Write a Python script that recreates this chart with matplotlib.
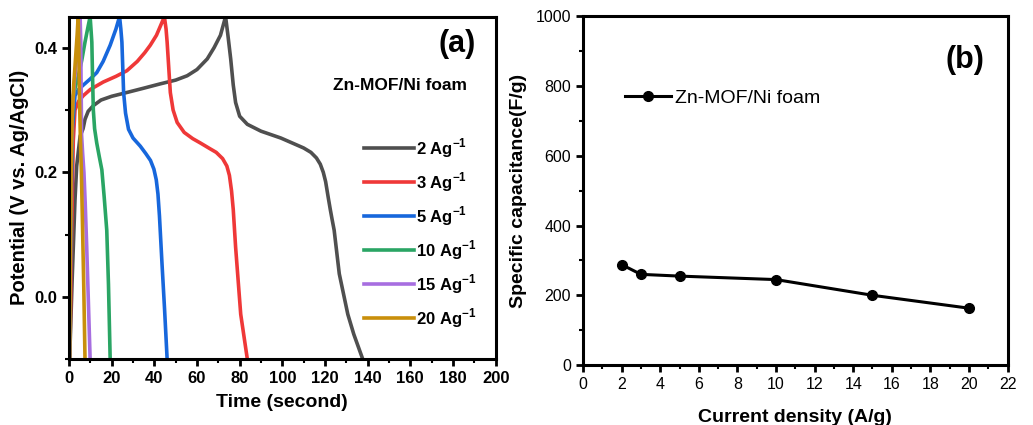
import numpy as np
import matplotlib
matplotlib.use("Agg")
import matplotlib.pyplot as plt
from matplotlib.ticker import MultipleLocator

plt.rcParams['font.family'] = ['Liberation Sans', 'DejaVu Sans']
plt.rcParams['mathtext.fontset'] = 'custom'
plt.rcParams['mathtext.bf'] = 'Liberation Sans:bold'
plt.rcParams['mathtext.rm'] = 'Liberation Sans:bold'

# (a) galvanostatic charge / discharge curves
t_2 = [0.3, 1.5, 2.8, 3.6, 5.2, 6.6, 7.5, 9, 11.4, 15, 20, 27, 35, 42.8, 50, 55.4, 60, 64.8, 68, 71,
       73.4, 74.5, 75.8, 77, 78.1, 80, 83.6, 90, 99.3, 106, 110, 113.4, 116, 117.8, 119.2, 120.3, 121.5,
       122.5, 123.3, 124.3, 126.7, 130.7, 133.5, 137.7]
v_2 = [-0.1, 0.03, 0.155, 0.21, 0.258, 0.27, 0.285, 0.298, 0.307, 0.316, 0.322, 0.328, 0.335, 0.342,
       0.348, 0.355, 0.365, 0.382, 0.40, 0.42, 0.45, 0.42, 0.382, 0.34, 0.312, 0.29, 0.277, 0.266, 0.255,
       0.245, 0.239, 0.232, 0.223, 0.213, 0.2, 0.185, 0.16, 0.14, 0.125, 0.107, 0.037, -0.028, -0.06, -0.1]

t_3 = [0.4, 1.2, 2.0, 2.8, 4.5, 6.7, 10, 16.1, 22, 27.1, 32, 35.5, 38.1, 41, 43.5, 44.7, 45.5, 46, 47.5,
       48.8, 50.7, 54, 58, 61.6, 66, 69, 72, 74, 75.2, 76.2, 77, 78.1, 80.5, 83.6]
v_3 = [-0.1, 0.1, 0.25, 0.30, 0.314, 0.323, 0.333, 0.345, 0.354, 0.363, 0.378, 0.392, 0.404, 0.42, 0.44,
       0.45, 0.43, 0.409, 0.328, 0.30, 0.28, 0.264, 0.254, 0.247, 0.238, 0.232, 0.222, 0.21, 0.195, 0.17,
       0.14, 0.08, -0.028, -0.1]

t_5 = [0.3, 0.9, 1.6, 2.8, 4.5, 6.7, 10, 13, 16, 19.3, 22, 23.7, 24.3, 24.8, 25.6, 26.5, 27.9, 30, 33.4,
       36, 38.2, 39.8, 40.9, 41.7, 42.4, 43.6, 44.8, 46]
v_5 = [-0.1, 0.12, 0.27, 0.323, 0.333, 0.34, 0.35, 0.36, 0.378, 0.404, 0.43, 0.45, 0.43, 0.409, 0.328,
       0.295, 0.269, 0.255, 0.242, 0.23, 0.219, 0.205, 0.188, 0.165, 0.13, 0.053, -0.02, -0.1]

t_10 = [0.2, 0.7, 1.2, 2.0, 3.2, 4.4, 6, 7.5, 9.0, 9.9, 10.3, 10.7, 11.0, 11.4, 12.0, 13.0, 14.2, 15.4,
        16.5, 17.7, 18.5, 19.3]
v_10 = [-0.1, 0.1, 0.25, 0.323, 0.34, 0.355, 0.38, 0.409, 0.435, 0.45, 0.43, 0.409, 0.36, 0.30, 0.27,
        0.247, 0.225, 0.204, 0.16, 0.107, 0.02, -0.1]

t_15 = [0.2, 0.6, 1.0, 1.6, 2.4, 3.2, 4.2, 5.2, 5.5, 5.7, 5.9, 6.4, 7.0, 7.6, 8.3, 9.1, 9.9]
v_15 = [-0.1, 0.08, 0.22, 0.3, 0.34, 0.37, 0.41, 0.45, 0.41, 0.33, 0.26, 0.23, 0.2, 0.15, 0.08, -0.01, -0.1]

t_20 = [0.3, 0.6, 1.0, 1.5, 2.2, 3.0, 3.8, 4.3, 4.6, 4.9, 5.3, 5.8, 6.3, 6.9, 7.5]
v_20 = [-0.1, 0.05, 0.2, 0.29, 0.34, 0.38, 0.42, 0.45, 0.4, 0.32, 0.26, 0.2, 0.12, 0.02, -0.1]

labels_a = [r'2 Ag$^{\mathbf{-1}}$', r'3 Ag$^{\mathbf{-1}}$', r'5 Ag$^{\mathbf{-1}}$',
            r'10 Ag$^{\mathbf{-1}}$', r'15 Ag$^{\mathbf{-1}}$', r'20 Ag$^{\mathbf{-1}}$']
colors_a = ['#4f4f4f', '#ef3838', '#1767dc', '#2aa564', '#a76ee0', '#c98f0b']

# (b) specific capacitance vs current density
density = [2, 3, 5, 10, 15, 20]
capacitance = [288, 260, 255, 245, 200, 163]

fig = plt.figure(figsize=(10.33, 4.25), dpi=100)

# ---------- panel (a) ----------
ax1 = fig.add_axes([0.0668, 0.155, 0.413, 0.806])
curves = [(t_2, v_2), (t_3, v_3), (t_5, v_5), (t_10, v_10), (t_15, v_15), (t_20, v_20)]
for (t, v), c, lab in zip(curves, colors_a, labels_a):
    ax1.plot(t, v, color=c, lw=2.6, label=lab, solid_joinstyle='round')

ax1.set_xlim(0, 200)
ax1.set_ylim(-0.1, 0.45)
ax1.xaxis.set_major_locator(MultipleLocator(20))
ax1.xaxis.set_minor_locator(MultipleLocator(10))
ax1.yaxis.set_major_locator(MultipleLocator(0.2))
ax1.yaxis.set_minor_locator(MultipleLocator(0.1))
ax1.set_yticks([0.0, 0.2, 0.4])
ax1.set_yticklabels(['0.0', '0.2', '0.4'])
ax1.tick_params(which='major', direction='out', length=5, width=2, labelsize=12)
ax1.tick_params(which='minor', direction='out', length=3, width=1.5)
for lab in ax1.get_xticklabels() + ax1.get_yticklabels():
    lab.set_fontweight('bold')
for s in ax1.spines.values():
    s.set_linewidth(2.2)
ax1.set_xlabel('Time (second)', fontsize=14, fontweight='bold', labelpad=6)
ax1.set_ylabel('Potential (V vs. Ag/AgCl)', fontsize=14.5, fontweight='bold', labelpad=4)
ax1.text(0.91, 0.92, '(a)', transform=ax1.transAxes, fontsize=22, fontweight='bold',
         ha='center', va='center')
ax1.text(0.775, 0.80, 'Zn-MOF/Ni foam', transform=ax1.transAxes, fontsize=12.5, fontweight='bold',
         ha='center', va='center')
leg = ax1.legend(loc='upper left', bbox_to_anchor=(0.675, 0.67), frameon=False, handlelength=3.0,
                 handletextpad=0.15, labelspacing=0.62, borderaxespad=0,
                 prop={'weight': 'bold', 'size': 12})

# ---------- panel (b) ----------
ax2 = fig.add_axes([0.5644, 0.141, 0.411, 0.821])
ax2.plot(density, capacitance, color='black', lw=2.2, marker='o', markersize=7,
         label='Zn-MOF/Ni foam')
ax2.set_xlim(0, 22)
ax2.set_ylim(0, 1000)
ax2.xaxis.set_major_locator(MultipleLocator(2))
ax2.xaxis.set_minor_locator(MultipleLocator(1))
ax2.yaxis.set_major_locator(MultipleLocator(200))
ax2.yaxis.set_minor_locator(MultipleLocator(100))
ax2.tick_params(which='major', direction='out', length=5, width=2, labelsize=11.5)
ax2.tick_params(which='minor', direction='out', length=3, width=1.5)
for s in ax2.spines.values():
    s.set_linewidth(2.2)
ax2.set_xlabel('Current density (A/g)', fontsize=14, fontweight='bold', labelpad=12)
ax2.set_ylabel('Specific capacitance(F/g)', fontsize=14, fontweight='bold', labelpad=6)
ax2.text(0.9, 0.875, '(b)', transform=ax2.transAxes, fontsize=22, fontweight='bold',
         ha='center', va='center')
ax2.legend(loc='center left', bbox_to_anchor=(0.08, 0.765), frameon=False, handlelength=2.4,
           handletextpad=0.2, borderaxespad=0, prop={'size': 14})

fig.savefig('out.png', dpi=100)
